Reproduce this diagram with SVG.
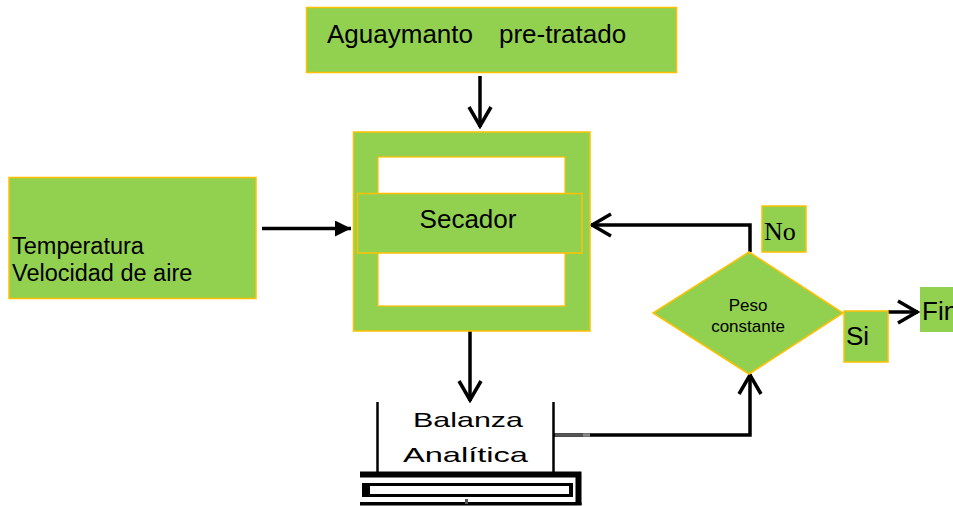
<svg xmlns="http://www.w3.org/2000/svg" width="953" height="506" viewBox="0 0 953 506">
<style>
.box{fill:#92D050;stroke:#FFC000;stroke-width:1.5}
.hole{fill:#ffffff;stroke:#FFC000;stroke-width:1.2}
.t{font-family:"Liberation Sans",Arial,sans-serif;fill:#000}
.ts{font-family:"Liberation Serif","Times New Roman",serif;fill:#000}
.ln{fill:none;stroke:#000;stroke-width:3.5}
</style>
<defs>
<marker id="chev" markerUnits="userSpaceOnUse" viewBox="0 0 24 26" refX="22" refY="13" markerWidth="24" markerHeight="26" orient="auto">
<path d="M2,2 L21,13 L2,24" fill="none" stroke="#000" stroke-width="3.5"/>
</marker>
<marker id="tri" markerUnits="userSpaceOnUse" viewBox="0 0 16 16" refX="16" refY="8" markerWidth="16" markerHeight="16" orient="auto">
<path d="M0,0 L16,8 L0,16 z" fill="#000"/>
</marker>
</defs>
<rect width="953" height="506" fill="#fff"/>

<g id="connectors">
<line class="ln" x1="480" y1="76" x2="480" y2="127" marker-end="url(#chev)"/>
<line class="ln" x1="262" y1="228.5" x2="351" y2="228.5" stroke-width="4.5" marker-end="url(#tri)"/>
<path class="ln" d="M750,252 V225 H591" marker-end="url(#chev)"/>
<line class="ln" x1="470" y1="331" x2="470" y2="401" marker-end="url(#chev)"/>
<path class="ln" d="M553,435 H750 V374" marker-end="url(#chev)"/>
<line x1="555" y1="435" x2="583" y2="435" stroke="#555" stroke-width="3.5"/>
<line x1="583" y1="435" x2="590" y2="435" stroke="#888" stroke-width="3.5"/>
<line class="ln" x1="888" y1="312" x2="918" y2="312" stroke-width="4.5" marker-end="url(#chev)"/>
</g>

<g id="aguaymanto">
<rect class="box" x="306.5" y="7.5" width="370" height="65"/>
<text class="t" font-size="26" y="43"><tspan x="327">Aguaymanto</tspan><tspan x="499">pre-tratado</tspan></text>
</g>

<g id="parametros">
<rect class="box" x="9" y="177.5" width="247" height="121"/>
<text class="t" font-size="23.5"><tspan x="12" y="254">Temperatura</tspan><tspan x="12" y="281">Velocidad de aire</tspan></text>
</g>

<g id="secador">
<rect class="box" x="353.5" y="132" width="236.5" height="199"/>
<rect class="hole" x="378" y="157" width="187" height="149"/>
<rect class="box" x="357.5" y="193.5" width="224.5" height="59.5"/>
<text class="t" font-size="26" x="468" y="228" text-anchor="middle">Secador</text>
</g>

<g id="balanza">
<line x1="377.5" y1="402" x2="377.5" y2="472" stroke="#000" stroke-width="2.5"/>
<line x1="553.5" y1="402" x2="553.5" y2="472" stroke="#000" stroke-width="2.5"/>
<rect x="360" y="471.5" width="221.5" height="6" fill="#000"/>
<rect x="575.5" y="477" width="6" height="28" fill="#000"/>
<rect x="360" y="502" width="221.5" height="3.5" fill="#000"/>
<rect x="362" y="483" width="211" height="14" fill="#000"/>
<rect x="370" y="486" width="199" height="8" fill="#fff"/>
<rect x="465" y="499" width="3" height="5" fill="#555"/>
<text class="t" font-size="21" x="413" y="427" textLength="110" lengthAdjust="spacingAndGlyphs">Balanza</text>
<text class="t" font-size="21" x="403" y="462" textLength="125" lengthAdjust="spacingAndGlyphs">Analítica</text>
</g>

<g id="decision">
<polygon class="box" points="749,252 843,313 749,374 653,313"/>
<text class="t" font-size="17" x="748" y="311" text-anchor="middle">Peso</text>
<text class="t" font-size="17" x="748" y="332" text-anchor="middle">constante</text>
</g>

<g id="no">
<rect class="box" x="762" y="206" width="44" height="46"/>
<text class="ts" font-size="26" x="764" y="240">No</text>
</g>

<g id="si">
<rect class="box" x="844" y="311" width="44" height="51"/>
<text class="t" font-size="26" x="846" y="345">Si</text>
</g>

<g id="fin">
<rect x="920" y="287" width="40" height="45" fill="#92D050"/>
<text class="t" font-size="26" x="922" y="320">Fin</text>
</g>
</svg>
